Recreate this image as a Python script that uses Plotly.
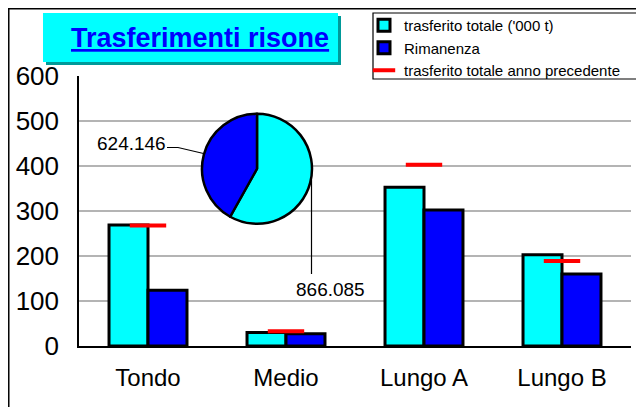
import plotly.graph_objects as go

categories = ["Tondo", "Medio", "Lungo A", "Lungo B"]
trasferito_totale = [269, 30, 353, 203]
rimanenza = [124, 27, 302, 160]
anno_precedente = [268, 33, 403, 189]
pie_labels = ["trasferito totale", "Rimanenza"]
pie_values = [866.085, 624.146]
y_ticks = [0, 100, 200, 300, 400, 500, 600]

W, H = 644, 407
OFF = 8  # page body offset
FONT = "Liberation Sans, Arial, sans-serif"

def px(x):
    return (x - OFF) / W

def py(y):
    return 1 - (y - OFF) / H

fig = go.Figure()
fig.add_trace(go.Bar(
    x=categories, y=trasferito_totale, name="trasferito totale ('000 t)",
    marker=dict(color="#00FFFF", line=dict(color="black", width=3)),
))
fig.add_trace(go.Bar(
    x=categories, y=rimanenza, name="Rimanenza",
    marker=dict(color="#0000FF", line=dict(color="black", width=3)),
))
fig.add_trace(go.Scatter(
    x=categories, y=anno_precedente, name="trasferito totale anno precedente",
    mode="markers",
    marker=dict(symbol="line-ew", size=26, color="red", line=dict(color="red", width=4)),
))
fig.add_trace(go.Pie(
    labels=pie_labels, values=pie_values, sort=False, direction="clockwise",
    rotation=0, textinfo="none", showlegend=False,
    marker=dict(colors=["#00FFFF", "#0000FF"], line=dict(color="black", width=2.5)),
    domain=dict(x=[px(202), px(312)], y=[py(224), py(113.5)]),
))

shapes = [
    # outer frame
    dict(type="line", xref="paper", yref="paper", x0=0.0012, x1=0.0012, y0=1, y1=0,
         line=dict(color="black", width=1.5)),
    dict(type="line", xref="paper", yref="paper", x0=0, x1=1, y0=0.998, y1=0.998,
         line=dict(color="black", width=1.5)),
    # title box shadow and box
    dict(type="rect", xref="paper", yref="paper", x0=px(46), x1=px(341), y0=py(65), y1=py(16),
         fillcolor="#009999", line=dict(width=0), layer="above"),
    dict(type="rect", xref="paper", yref="paper", x0=px(43), x1=px(338), y0=py(62), y1=py(13),
         fillcolor="#00FFFF", line=dict(width=0), layer="above"),
    # legend frame
    dict(type="rect", xref="paper", yref="paper", x0=px(373), x1=px(638), y0=py(79), y1=py(13),
         fillcolor="white", line=dict(color="black", width=1.2), layer="above"),
    # pie leader lines
    dict(type="path", xref="paper", yref="paper",
         path=f"M {px(167)},{py(147.5)} L {px(178)},{py(147.5)} L {px(203.5)},{py(153.5)}",
         line=dict(color="black", width=1.2), layer="above"),
    dict(type="line", xref="paper", yref="paper", x0=px(311.5), x1=px(311.5), y0=py(180), y1=py(274),
         line=dict(color="black", width=1.2), layer="above"),
]

annotations = [
    dict(text="<b><u>Trasferimenti risone</u></b>", xref="paper", yref="paper",
         x=px(200), y=py(38), xanchor="center", yanchor="middle", showarrow=False,
         font=dict(family=FONT, size=27, color="#0000FF")),
    dict(text=f"{pie_values[1]:.3f}", xref="paper", yref="paper",
         x=px(131), y=py(143), xanchor="center", yanchor="middle", showarrow=False,
         font=dict(family=FONT, size=19, color="black")),
    dict(text=f"{pie_values[0]:.3f}", xref="paper", yref="paper",
         x=px(330), y=py(289), xanchor="center", yanchor="middle", showarrow=False,
         font=dict(family=FONT, size=19, color="black")),
]

fig.update_layout(
    width=W, height=H,
    margin=dict(l=0, r=0, t=0, b=0, autoexpand=False),
    paper_bgcolor="white", plot_bgcolor="white",
    barmode="group", bargap=0.435, bargroupgap=0,
    font=dict(family=FONT, color="black"),
    shapes=shapes, annotations=annotations,
    showlegend=True,
    legend=dict(x=px(364), y=py(9), xanchor="left", yanchor="top",
                borderwidth=0, bgcolor="rgba(0,0,0,0)",
                font=dict(family=FONT, size=15, color="black"),
                tracegroupgap=0, itemwidth=30),
    xaxis=dict(domain=[px(79), px(631)], showline=True, linecolor="black", linewidth=1.5,
               showgrid=False, ticks="", tickfont=dict(family=FONT, size=24),
               ticklabelstandoff=9, automargin=False, fixedrange=True),
    yaxis=dict(domain=[py(346), py(76)], range=[0, 600], tickvals=y_ticks,
               showline=True, linecolor="black", linewidth=1.5,
               showgrid=True, gridcolor="#b4b4b4", gridwidth=1.5, zeroline=False,
               ticks="", tickfont=dict(family=FONT, size=26), ticklabelstandoff=13,
               automargin=False, fixedrange=True),
)

fig.write_html("out.html")
